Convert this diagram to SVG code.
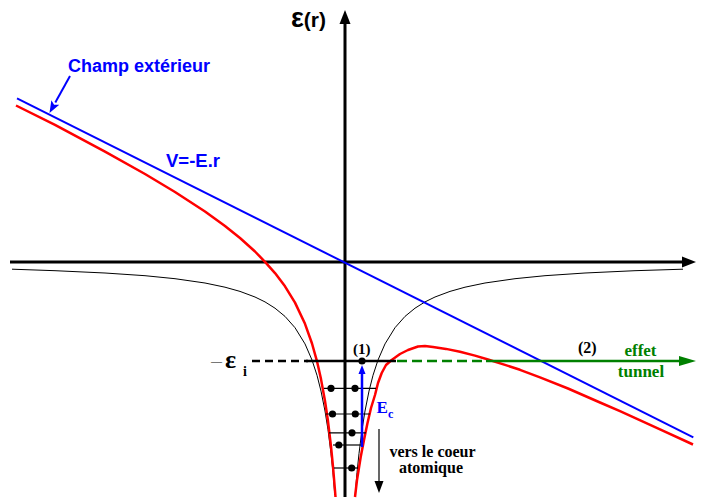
<svg xmlns="http://www.w3.org/2000/svg" width="707" height="499" viewBox="0 0 707 499">
<style>
.axis{stroke:#000;stroke-width:3;fill:none}
.thin{stroke:#000;stroke-width:1;fill:none;stroke-linejoin:round}
.red{stroke:#f00;stroke-width:2.5;fill:none;stroke-linejoin:round}
.blue{stroke:#00f;stroke-width:2;fill:none}
.lvl{stroke:#000;stroke-width:1.2}
.dot{fill:#000}
.sans{font-family:"Liberation Sans",Arial,sans-serif;font-weight:bold}
.serif{font-family:"Liberation Serif","Times New Roman",serif;font-weight:bold}
</style>
<defs>
<marker id="ahAxis" markerUnits="userSpaceOnUse" viewBox="0 -6 14 12" refX="0" refY="0" markerWidth="14" markerHeight="12" orient="auto"><path d="M0,-5.5 L14,0 L0,5.5 z" fill="#000"/></marker>
<marker id="ahGreen" markerUnits="userSpaceOnUse" viewBox="0 -6 17 12" refX="0" refY="0" markerWidth="17" markerHeight="12" orient="auto"><path d="M0,-5 L17,0 L0,5 z" fill="#008000"/></marker>
<marker id="ahBlueS" markerUnits="userSpaceOnUse" viewBox="0 -4 9 8" refX="0" refY="0" markerWidth="9" markerHeight="8" orient="auto"><path d="M0,-3.5 L9,0 L0,3.5 z" fill="#00f"/></marker>
<marker id="ahBlue" markerUnits="userSpaceOnUse" viewBox="0 -5 12 10" refX="0" refY="0" markerWidth="12" markerHeight="10" orient="auto"><path d="M0,-4.5 L12,0 L0,4.5 L2.5,0 z" fill="#00f"/></marker>
<marker id="ahBlack" markerUnits="userSpaceOnUse" viewBox="0 -5 12 10" refX="0" refY="0" markerWidth="12" markerHeight="10" orient="auto"><path d="M0,-4.5 L12,0 L0,4.5 z" fill="#000"/></marker>
</defs>
<rect width="707" height="499" fill="#fff"/>

<g id="coulomb-potential">
<path class="thin" d="M12,269.2 L55,270.7 L105,273 L145,275.7 L175,278.7 L205,283 L225,287.2 L240,291.4 L255,297 L265,301.9 L275,308.2 L285,316.4 L295,327.7 L305,343.9 L312,360 L317,375.3 L321,391.1 L325,411 L328,429.8 L331,453.5 L333,472.6 L334.8,495"/>
<path class="thin" d="M355.2,495 L357,472.6 L359,453.5 L362,429.8 L365,411 L369,391.1 L373,375.3 L378,360 L385,343.9 L395,327.7 L405,316.4 L415,308.2 L425,301.9 L435,297 L450,291.4 L465,287.2 L485,283 L515,278.7 L545,275.7 L585,273 L635,270.7 L683,269.2"/>
</g>

<g id="axes">
<line class="axis" x1="10" y1="262" x2="682" y2="262" marker-end="url(#ahAxis)"/>
<line class="axis" x1="345" y1="497" x2="345" y2="24" marker-end="url(#ahAxis)"/>
</g>

<g id="field-line">
<path class="blue" d="M17,98.3 L693.3,437.3"/>
</g>

<g id="total-potential">
<path class="red" d="M16,105.5 L55,124.8 L105,151.6 L145,174 L175,192 L205,211.5 L225,226 L240,238 L255,251.5 L265,261.8 L275,273.1 L285,286.3 L295,302.6 L305,323.8 L312,343.5 L317,361.3 L321,379.1 L325,401 L328,421.3 L331,446.5 L333,466.6 L335,490.5 L335.5,497"/>
<path class="red" d="M355,497 L357,480 L360.7,457 L364,440 L367.5,423 L371,408 L375,395 L378,383 L381.7,373 L386,365 L391.7,360 L400,354 L408,350 L418,346.5 L425,346 L433,347.1 L446,348.9 L460,351.8 L475,355.6 L488,359.5 L505,364.9 L520,369.8 L540,377.3 L568,388.5 L600,402.5 L620,411.1 L660,429.3 L693,444.5"/>
</g>

<g id="levels">
<line x1="252" y1="361" x2="308" y2="361" stroke="#000" stroke-width="2.5" stroke-dasharray="8 5"/>
<line x1="306" y1="361" x2="396" y2="361" stroke="#000" stroke-width="2.5"/>
<line class="lvl" x1="324" y1="388.3" x2="376" y2="388.3"/>
<line class="lvl" x1="326" y1="414" x2="370" y2="414"/>
<line class="lvl" x1="329" y1="432.8" x2="366" y2="432.8"/>
<line class="lvl" x1="333" y1="445" x2="363" y2="445"/>
<line class="lvl" x1="334" y1="468" x2="358" y2="468"/>
</g>

<g id="electrons">
<circle class="dot" cx="362" cy="361" r="3.6"/>
<circle class="dot" cx="331" cy="388.3" r="3.6"/>
<circle class="dot" cx="355" cy="388.3" r="3.6"/>
<circle class="dot" cx="332.5" cy="414" r="3.6"/>
<circle class="dot" cx="355.3" cy="414" r="3.6"/>
<circle class="dot" cx="352" cy="432.8" r="3.6"/>
<circle class="dot" cx="338.8" cy="445" r="3.6"/>
<circle class="dot" cx="351.7" cy="468" r="3.6"/>
</g>

<g id="connectors">
<line x1="397" y1="361" x2="485" y2="361" stroke="#008000" stroke-width="2.5" stroke-dasharray="10 5"/>
<line x1="486" y1="361" x2="679" y2="361" stroke="#008000" stroke-width="2.5" marker-end="url(#ahGreen)"/>
<line x1="362" y1="447" x2="362" y2="374" stroke="#00f" stroke-width="2.5" marker-end="url(#ahBlueS)"/>
<line x1="379" y1="429" x2="379" y2="481" stroke="#000" stroke-width="1.2" marker-end="url(#ahBlack)"/>
<line x1="70" y1="76" x2="55.3" y2="102.5" stroke="#00f" stroke-width="2" marker-end="url(#ahBlue)"/>
</g>

<g id="labels">
<text class="sans" x="291" y="27" font-size="21"><tspan font-size="27">ε</tspan>(r)</text>
<text class="sans" x="68" y="72" font-size="18" fill="#00f">Champ extérieur</text>
<text class="sans" x="166" y="167" font-size="18.5" fill="#00f">V=-E.r</text>
<text class="serif"><tspan x="211" y="364.5" font-size="11" style="font-weight:normal">—</tspan><tspan x="225" y="368" font-size="26">ε</tspan><tspan x="243" y="376" font-size="14">i</tspan></text>
<text class="serif" x="353" y="354" font-size="15">(1)</text>
<text class="serif" x="578" y="353" font-size="16">(2)</text>
<text class="serif" x="640.5" y="356" font-size="17" fill="#008000" text-anchor="middle">effet</text>
<text class="serif" x="641" y="377" font-size="17" fill="#008000" text-anchor="middle">tunnel</text>
<text class="serif" fill="#00f"><tspan x="376.5" y="413" font-size="17">E</tspan><tspan x="388" y="418" font-size="12">c</tspan></text>
<text class="serif" x="432.5" y="457" font-size="16" text-anchor="middle">vers le coeur</text>
<text class="serif" x="431" y="473" font-size="16" text-anchor="middle">atomique</text>
</g>
</svg>
